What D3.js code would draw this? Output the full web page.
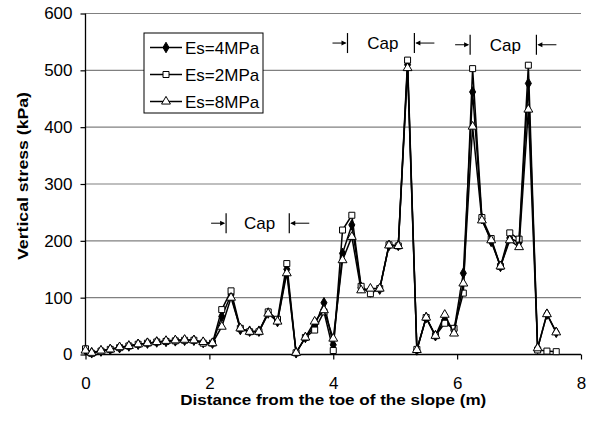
<!DOCTYPE html>
<html>
<head>
<meta charset="utf-8">
<script src="https://cdn.jsdelivr.net/npm/d3@7"></script>
<style>
  body { margin: 0; background: #fff; }
  svg { display: block; font-family: Arial, "Liberation Sans", sans-serif; }
</style>
</head>
<body>
<div id="chart"></div>
<script>
// distance from the toe of the slope (m)
const distance = [0, 0.10, 0.25, 0.40, 0.55, 0.70, 0.85, 1.00, 1.15, 1.30, 1.45, 1.60, 1.75, 1.90,
  2.05, 2.20, 2.35, 2.50, 2.65, 2.80, 2.95, 3.10, 3.25, 3.40, 3.55, 3.70, 3.85, 4.00,
  4.15, 4.30, 4.45, 4.60, 4.75, 4.90, 5.05, 5.20, 5.35, 5.50, 5.65, 5.80, 5.95, 6.10,
  6.25, 6.40, 6.55, 6.70, 6.85, 7.00, 7.15, 7.30, 7.45, 7.60];

// vertical stress (kPa)
const es4 = [8, 3, 6, 9, 12, 15, 18, 20, 22, 23, 24, 25, 25, 21,
  20, 67, 105, 44, 41, 41, 73, 58, 150, 3, 30, 50, 91, 17,
  178, 228, 118, 110, 115, 192, 192, 510, 8, 65, 33, 61, 43, 143,
  462, 239, 199, 155, 205, 197, 477, 11, 71, 39];
const es2 = [10, 2, 6, 9, 12, 15, 18, 20, 22, 23, 24, 25, 25, 20,
  20, 79, 112, 46, 40, 40, 75, 62, 160, 3, 30, 43, 75, 7,
  219, 245, 120, 107, 116, 193, 191, 518, 9, 65, 33, 55, 46, 108,
  503, 241, 204, 155, 214, 203, 509, 8, 6, 5];
const es8 = [7, 3, 7, 9, 13, 15, 18, 20, 22, 24, 25, 26, 25, 22,
  20, 49, 100, 46, 40, 40, 72, 58, 143, 3, 30, 58, 78, 28,
  166, 207, 113, 116, 116, 192, 191, 504, 8, 65, 33, 70, 37, 125,
  401, 236, 201, 155, 201, 189, 431, 11, 71, 39];

const seriesNames = ["Es=4MPa", "Es=2MPa", "Es=8MPa"];
const yTicks = [0, 100, 200, 300, 400, 500, 600];
const xTicks = [0, 2, 4, 6, 8];

// pile cap extents: [from, to, stress level of the label]
const caps = [[2.27, 3.29, 231], [4.23, 5.31, 548], [6.21, 7.28, 545]];

const config = { width: 592, height: 421, left: 85.5, right: 11, top: 13.5, bottom: 66.5 };
const w = config.width - config.left - config.right;
const h = config.height - config.top - config.bottom;

const svg = d3.select("#chart")
  .append("svg")
  .attr("width", config.width)
  .attr("height", config.height);

const g = svg.append("g")
  .attr("transform", `translate(${config.left},${config.top})`);

const x = d3.scaleLinear().domain([0, 8]).range([0, w]);
const y = d3.scaleLinear().domain([0, 600]).range([h, 0]);

// gridlines
g.append("g")
  .selectAll("line")
  .data(yTicks.filter(d => d > 0))
  .enter()
  .append("line")
    .attr("x1", 0)
    .attr("x2", w)
    .attr("y1", d => y(d))
    .attr("y2", d => y(d))
    .attr("stroke", "#808080")
    .attr("stroke-width", 1.2);

// axes
const yAxis = g.append("g")
  .call(d3.axisLeft(y).tickValues(yTicks).tickSize(5).tickPadding(8));
const xAxis = g.append("g")
  .attr("transform", `translate(0,${h})`)
  .call(d3.axisBottom(x).tickValues(xTicks).tickSize(5).tickPadding(17));

[xAxis, yAxis].forEach(a => {
  a.select(".domain").attr("stroke", "#000").attr("stroke-width", 1.3);
  a.selectAll(".tick line").attr("stroke", "#000").attr("stroke-width", 1.2);
  a.selectAll("text")
    .attr("fill", "#000")
    .style("font-size", "17px")
    .style("font-family", "Arial, 'Liberation Sans', sans-serif");
});
xAxis.select(".domain").attr("d", `M0,0H${w}`);
yAxis.select(".domain").attr("d", `M0,${h}V0`);

// axis titles
svg.append("text")
  .attr("x", config.left + w / 2)
  .attr("y", 405)
  .attr("text-anchor", "middle")
  .attr("textLength", 306)
  .attr("lengthAdjust", "spacingAndGlyphs")
  .style("font-size", "15px")
  .style("font-weight", "bold")
  .text("Distance from the toe of the slope (m)");

svg.append("text")
  .attr("transform", "translate(28,176)rotate(-90)")
  .attr("text-anchor", "middle")
  .attr("textLength", 168)
  .attr("lengthAdjust", "spacingAndGlyphs")
  .style("font-size", "15px")
  .style("font-weight", "bold")
  .text("Vertical stress (kPa)");

// series
const series = [
  { name: seriesNames[0], values: es4, symbol: d3.symbolDiamond, size: 32, fill: "#000" },
  { name: seriesNames[1], values: es2, symbol: d3.symbolSquare, size: 36, fill: "#fff" },
  { name: seriesNames[2], values: es8, symbol: d3.symbolTriangle, size: 34, fill: "#fff" }
];

const line = d3.line()
  .x((d, i) => x(distance[i]))
  .y(d => y(d));

series.forEach(s => {
  g.append("path")
    .datum(s.values)
    .attr("fill", "none")
    .attr("stroke", "#000")
    .attr("stroke-width", 1.5)
    .attr("d", line);

  g.append("g")
    .selectAll("path")
    .data(s.values)
    .enter()
    .append("path")
      .attr("transform", (d, i) => `translate(${x(distance[i])},${y(d)})`)
      .attr("d", d3.symbol().type(s.symbol).size(s.size))
      .attr("fill", s.fill)
      .attr("stroke", "#000")
      .attr("stroke-width", 1);
});

// cap annotations
const capG = g.append("g");
caps.forEach(c => {
  const x0 = x(c[0]), x1 = x(c[1]), yc = y(c[2]);
  [x0, x1].forEach(xx => {
    capG.append("line")
      .attr("x1", xx).attr("x2", xx)
      .attr("y1", yc - 10).attr("y2", yc + 10)
      .attr("stroke", "#000").attr("stroke-width", 1.2);
  });
  // left arrow pointing right, right arrow pointing left
  capG.append("line")
    .attr("x1", x0 - 15).attr("x2", x0 - 2)
    .attr("y1", yc).attr("y2", yc)
    .attr("stroke", "#000").attr("stroke-width", 1);
  capG.append("path")
    .attr("d", `M${x0 - 1},${yc}L${x0 - 6},${yc - 2.5}L${x0 - 6},${yc + 2.5}Z`)
    .attr("fill", "#000");
  capG.append("line")
    .attr("x1", x1 + 2).attr("x2", x1 + 20)
    .attr("y1", yc).attr("y2", yc)
    .attr("stroke", "#000").attr("stroke-width", 1);
  capG.append("path")
    .attr("d", `M${x1 + 1},${yc}L${x1 + 6},${yc - 2.5}L${x1 + 6},${yc + 2.5}Z`)
    .attr("fill", "#000");
  capG.append("text")
    .attr("x", (x0 + x1) / 2 + 2)
    .attr("y", yc + 6)
    .attr("text-anchor", "middle")
    .style("font-size", "17px")
    .text("Cap");
});

// legend
const legend = svg.append("g").attr("transform", "translate(144,33)");
legend.append("rect")
  .attr("width", 119)
  .attr("height", 80)
  .attr("fill", "#fff")
  .attr("stroke", "#000")
  .attr("stroke-width", 1);

series.forEach((s, i) => {
  const ly = 14.5 + i * 27;
  legend.append("line")
    .attr("x1", 6).attr("x2", 38)
    .attr("y1", ly).attr("y2", ly)
    .attr("stroke", "#000").attr("stroke-width", 1.5);
  legend.append("path")
    .attr("transform", `translate(22,${ly})`)
    .attr("d", d3.symbol().type(s.symbol).size(s.size))
    .attr("fill", s.fill)
    .attr("stroke", "#000")
    .attr("stroke-width", 1);
  legend.append("text")
    .attr("x", 41)
    .attr("y", ly + 6)
    .style("font-size", "17px")
    .text(s.name);
});
</script>
</body>
</html>
